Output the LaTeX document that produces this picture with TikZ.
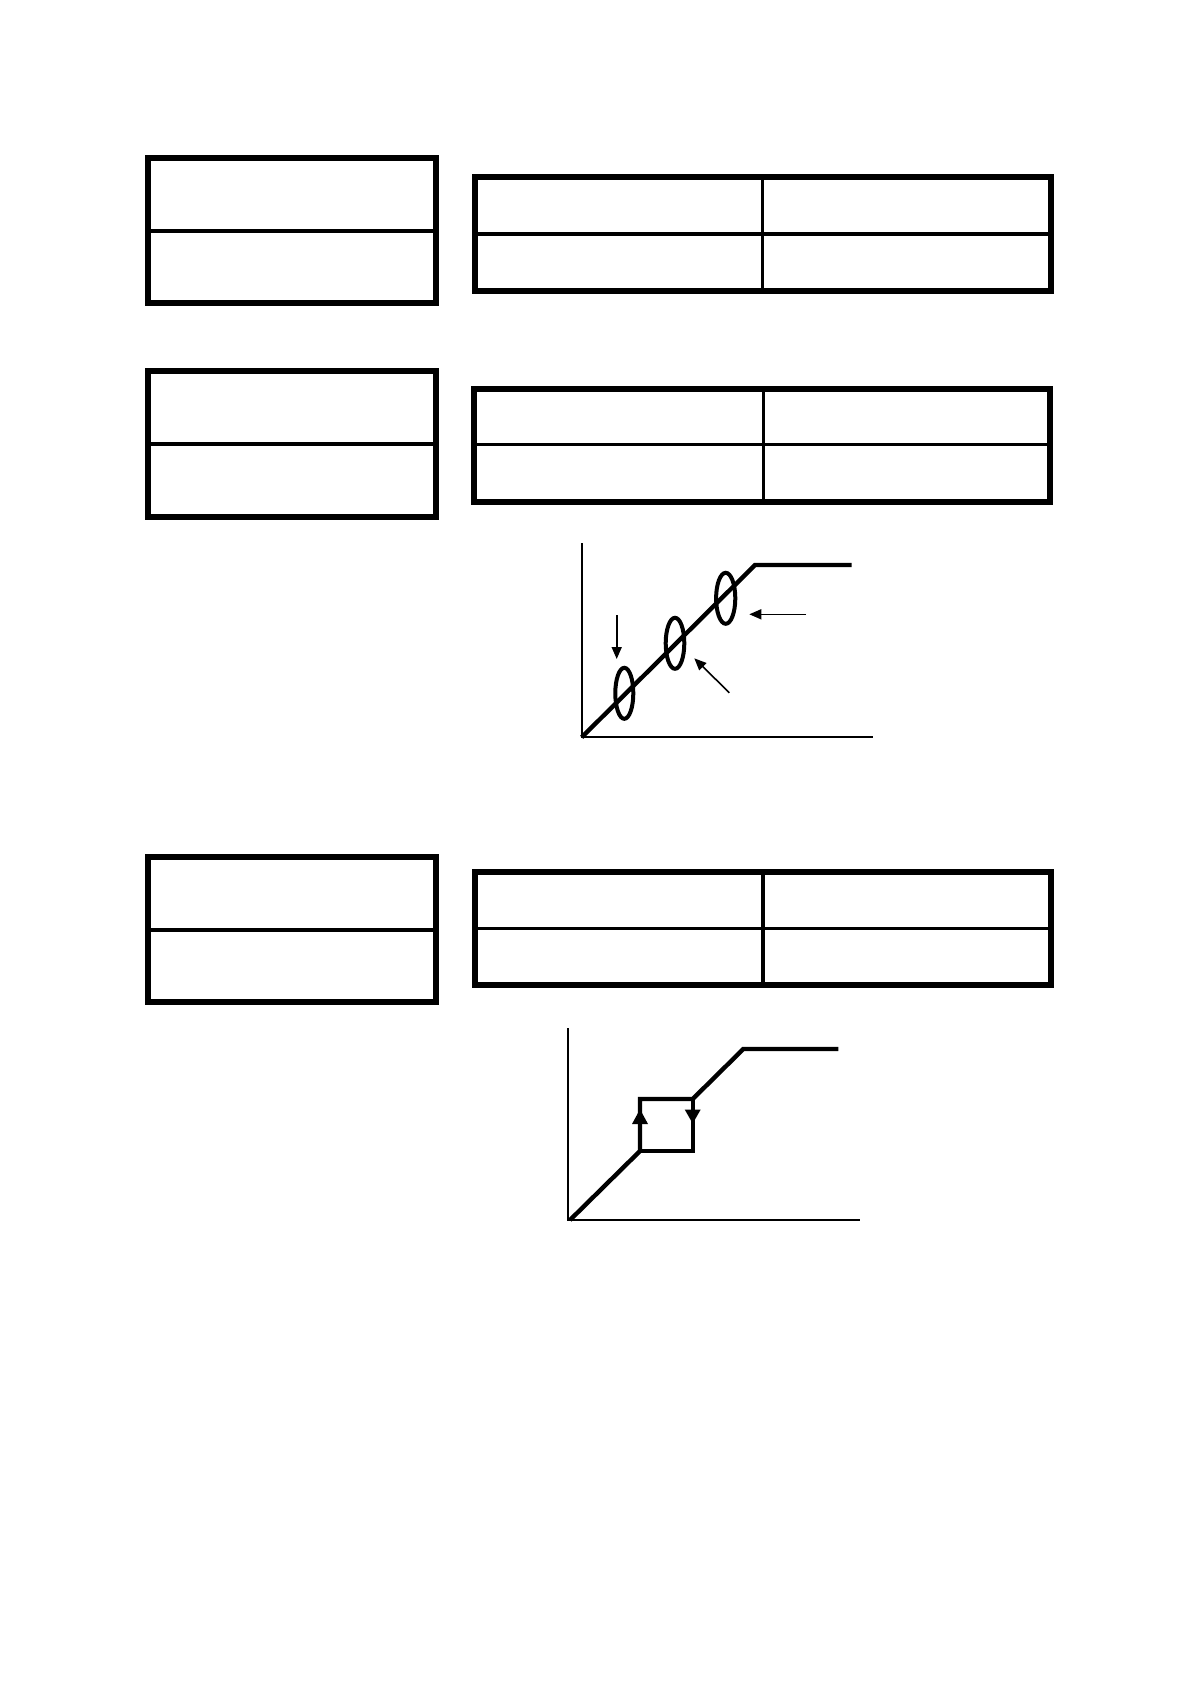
\documentclass[tikz,border=0pt]{standalone}
\usetikzlibrary{arrows.meta}
\begin{document}
\begin{tikzpicture}[x=0.5pt,y=-0.5pt,
  frame/.style={line width=3pt, line join=miter},
  rule/.style={line width=1.8pt},
  axis/.style={line width=0.9pt},
  curve/.style={line width=2.2pt, line join=miter},
  loopline/.style={line width=2pt},
  pointer/.style={line width=0.8pt,-{Triangle[length=6pt,width=5pt]}},
]
\useasboundingbox (0,0) rectangle (1192,1684);

% ---- left two-row boxes ----
\foreach \t/\m/\b in {158/231/303, 371/444/516.7, 857/930/1002}{
  \draw[rule] (148,\m) -- (436,\m);
  \draw[frame] (148,\t) rectangle (436,\b);
}

% ---- right 2x2 tables ----
\foreach \l/\r/\t/\m/\b/\d in {475.3/1051.2/177.5/234.3/291/762.5,
                                473.8/1049.5/389/444.7/501.5/763.3,
                                475.4/1051/872/928.3/985.3/763}{
  \draw[rule] (\l,\m) -- (\r,\m);
  \draw[rule] (\d,\t) -- (\d,\b);
  \draw[frame] (\l,\t) rectangle (\r,\b);
}

% ---- graph 1 ----
\coordinate (g1top) at (581.7,543.3);
\coordinate (g1o) at (581.7,737.3);
\coordinate (g1x) at (873.3,737.3);
\coordinate (g1k) at (755,565);
\coordinate (g1e) at (851.7,565);
\draw[axis] (g1top) -- (g1o) -- (g1x);
\draw[curve] (g1o) -- (g1k) -- (g1e);
\draw[loopline] (624.3,693.3) ellipse [x radius=9, y radius=25.5];
\draw[loopline] (675,643.3) ellipse [x radius=9.3, y radius=25.5];
\draw[loopline] (725.7,598.3) ellipse [x radius=9.6, y radius=25.5];
\coordinate (a1s) at (616.7,615);
\coordinate (a1e) at (616.7,659);
\coordinate (a2s) at (729.3,692.7);
\coordinate (a2e) at (694.3,658.3);
\coordinate (a3s) at (806,614.3);
\coordinate (a3e) at (749.3,614.3);
\draw[pointer] (a1s) -- (a1e);
\draw[pointer] (a2s) -- (a2e);
\draw[pointer] (a3s) -- (a3e);

% ---- graph 2 ----
\coordinate (g2top) at (568.3,1028.3);
\coordinate (g2o) at (568.3,1220);
\coordinate (g2x) at (860,1220);
\coordinate (p1) at (640,1151);
\coordinate (p2) at (640,1099);
\coordinate (p3) at (692.7,1099);
\coordinate (p4) at (692.7,1151);
\coordinate (p5) at (743.3,1049);
\coordinate (p6) at (838.3,1049);
\draw[axis] (g2top) -- (g2o) -- (g2x);
\draw[curve] (570,1220) -- (p1) -- (p2) -- (p3) -- (p5) -- (p6);
\draw[curve] (p1) -- (p4) -- (p3);
\fill (640,1109.3) -- (632,1124) -- (648,1124) -- cycle;
\fill (692.7,1123.5) -- (684.7,1109.5) -- (700.7,1109.5) -- cycle;
\end{tikzpicture}
\end{document}
